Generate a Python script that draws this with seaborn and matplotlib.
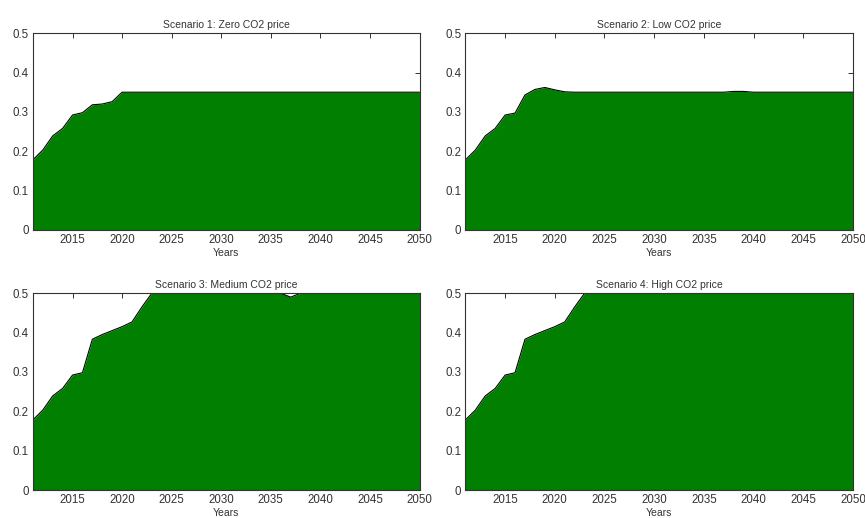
import numpy as np
import pandas as pd
import matplotlib
matplotlib.use("Agg")
import matplotlib.pyplot as plt
import seaborn as sns

years = list(range(2011, 2051))

# Share per year for each scenario (ramp-up phase, then plateau)
zero_co2 = [0.178, 0.203, 0.239, 0.258, 0.292, 0.298, 0.318, 0.320, 0.326, 0.350] + [0.35] * 30
low_co2 = ([0.178, 0.203, 0.239, 0.258, 0.292, 0.297, 0.343, 0.357, 0.362, 0.356, 0.351]
           + [0.35] * 16 + [0.352, 0.352] + [0.35] * 11)
medium_co2 = ([0.178, 0.203, 0.239, 0.258, 0.292, 0.298, 0.383, 0.395, 0.405, 0.415, 0.427, 0.465]
              + [0.5] * 14 + [0.49] + [0.5] * 13)
high_co2 = ([0.178, 0.203, 0.239, 0.258, 0.292, 0.298, 0.383, 0.395, 0.405, 0.415, 0.427, 0.465]
            + [0.5] * 28)

titles = ["Scenario 1: Zero CO2 price", "Scenario 2: Low CO2 price",
          "Scenario 3: Medium CO2 price", "Scenario 4: High CO2 price"]
series = [zero_co2, low_co2, medium_co2, high_co2]

x_ticks = [2015, 2020, 2025, 2030, 2035, 2040, 2045, 2050]
y_ticks = [0, 0.1, 0.2, 0.3, 0.4, 0.5]
y_tick_labels = ["0", "0.1", "0.2", "0.3", "0.4", "0.5"]

sns.set_theme(style="white")
plt.rcParams["font.family"] = ["Liberation Sans", "DejaVu Sans"]

fig = plt.figure(figsize=(8.65, 5.18), dpi=100)
positions = [
    [0.038, 0.556, 0.447, 0.380],
    [0.538, 0.556, 0.448, 0.380],
    [0.038, 0.054, 0.447, 0.380],
    [0.538, 0.054, 0.448, 0.380],
]

fill_color = "#007f00"
for pos, title, vals in zip(positions, titles, series):
    ax = fig.add_axes(pos)
    df = pd.DataFrame({"Years": years, "share": vals})
    ax.fill_between(df["Years"], 0, df["share"], color=fill_color, linewidth=0, zorder=1)
    sns.lineplot(data=df, x="Years", y="share", ax=ax, color="black", linewidth=0.8, zorder=2)
    ax.set_xlim(2011, 2050)
    ax.set_ylim(0, 0.5)
    ax.set_xticks(x_ticks)
    ax.set_yticks(y_ticks)
    ax.set_yticklabels(y_tick_labels)
    ax.set_title(title, fontsize=7.5, color="#333333", pad=4)
    ax.set_xlabel("Years", fontsize=7.5, color="#333333", labelpad=1)
    ax.set_ylabel("")
    ax.tick_params(direction="in", top=True, right=True, length=3.5, width=0.7,
                   labelsize=8.3, colors="#333333", pad=3)
    for sp in ax.spines.values():
        sp.set_color("#333333")
        sp.set_linewidth(0.8)
        sp.set_zorder(3)

fig.savefig("out.png", dpi=100, facecolor="white")
